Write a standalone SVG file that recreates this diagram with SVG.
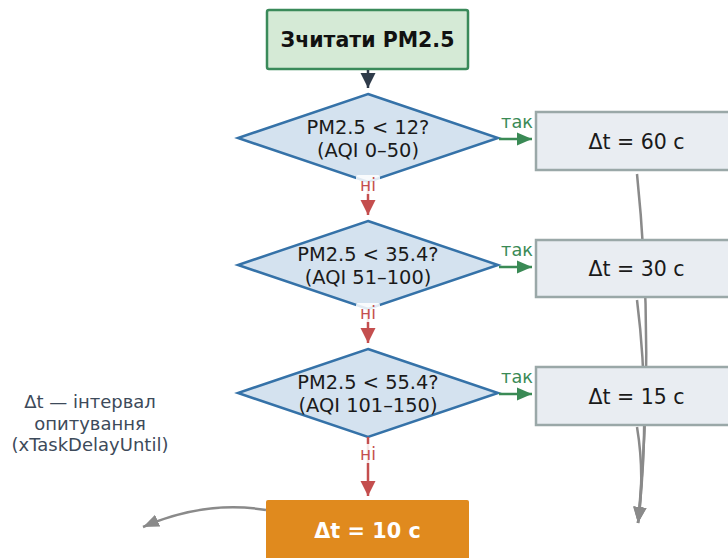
<svg xmlns="http://www.w3.org/2000/svg" width="728" height="558" viewBox="0 0 728 558">
  <defs>
    <marker id="headDark" markerUnits="userSpaceOnUse" markerWidth="16" markerHeight="16" viewBox="0 0 16 16" refX="15" refY="8" orient="auto">
      <path d="M0,0.5 L15,8 L0,15.5 Z" fill="#2f3b4a"/>
    </marker>
    <marker id="headRed" markerUnits="userSpaceOnUse" markerWidth="16" markerHeight="16" viewBox="0 0 16 16" refX="15" refY="8" orient="auto">
      <path d="M0,0.5 L15,8 L0,15.5 Z" fill="#c44e4e"/>
    </marker>
    <marker id="headGreen" markerUnits="userSpaceOnUse" markerWidth="16" markerHeight="16" viewBox="0 0 16 16" refX="15" refY="8" orient="auto">
      <path d="M0,1.5 L15,8 L0,14.5 Z" fill="#3a8a55"/>
    </marker>
    <marker id="headGray" markerUnits="userSpaceOnUse" markerWidth="18" markerHeight="18" viewBox="0 0 18 18" refX="16" refY="9" orient="auto">
      <path d="M0,2.5 L16,9 L0,15.5 Z" fill="#8a8a8a"/>
    </marker>
  </defs>
  <style>
    text { font-family: "DejaVu Sans", "Liberation Sans", sans-serif; text-anchor: middle; }
    .decision polygon { fill: #d4e2ef; stroke: #3572a8; stroke-width: 2.5; }
    .decision text { font-size: 19.4px; fill: #1a1a1a; }
    .delay rect { fill: #e9edf2; stroke: #9aa8a8; stroke-width: 2.5; }
    .delay text { font-size: 20.5px; fill: #1a1a1a; }
    .no-line { stroke: #c44e4e; stroke-width: 2.5; fill: none; marker-end: url(#headRed); }
    .yes-line { stroke: #3a8a55; stroke-width: 2.5; fill: none; marker-end: url(#headGreen); }
    .loop { stroke: #8a8a8a; stroke-width: 2.5; fill: none; marker-end: url(#headGray); }
    .no-label { font-size: 17px; fill: #c44e4e; }
    .yes-label { font-size: 17.7px; fill: #3a8a55; }
  </style>

  <!-- loop-back curves (behind the delay boxes) -->
  <g id="loops">
    <path class="loop" d="M637,174 Q655,348 638,523"/>
    <path class="loop" d="M637,300 Q651,411 638,523"/>
    <path class="loop" d="M637,427 Q645,475 638,523"/>
    <path class="loop" d="M266,510 Q205,500 143,527"/>
  </g>

  <!-- start node -->
  <g id="read">
    <rect x="267" y="10" width="201" height="59" rx="2" fill="#d5ead6" stroke="#3a8a5a" stroke-width="2.5"/>
    <text x="367.5" y="46.5" font-size="20.5" font-weight="bold" fill="#111">Зчитати PM2.5</text>
  </g>

  <!-- decisions -->
  <g id="cond12" class="decision">
    <polygon points="368,94 498,138 368,182 238,138"/>
    <text x="368" y="134">PM2.5 &lt; 12?</text>
    <text x="368" y="157">(AQI 0–50)</text>
  </g>
  <g id="cond35" class="decision">
    <polygon points="368,221 498,265 368,309 238,265"/>
    <text x="368" y="261">PM2.5 &lt; 35.4?</text>
    <text x="368" y="284">(AQI 51–100)</text>
  </g>
  <g id="cond55" class="decision">
    <polygon points="368,349 498,393 368,437 238,393"/>
    <text x="368" y="389">PM2.5 &lt; 55.4?</text>
    <text x="368" y="412">(AQI 101–150)</text>
  </g>

  <!-- delay boxes -->
  <g id="delay60" class="delay">
    <rect x="536" y="112" width="210" height="58"/>
    <text x="636.5" y="148.5">Δt = 60 с</text>
  </g>
  <g id="delay30" class="delay">
    <rect x="536" y="240" width="210" height="57"/>
    <text x="636.5" y="276">Δt = 30 с</text>
  </g>
  <g id="delay15" class="delay">
    <rect x="536" y="367" width="210" height="58"/>
    <text x="636.5" y="403.5">Δt = 15 с</text>
  </g>
  <g id="delay10">
    <rect x="266" y="500" width="203" height="70" rx="2" fill="#e08a1e"/>
    <text x="367.5" y="537.5" font-size="20.8" font-weight="bold" fill="#ffffff">Δt = 10 с</text>
  </g>

  <!-- flow connectors -->
  <g id="connectors">
    <line x1="368" y1="70" x2="368" y2="88" stroke="#2f3b4a" stroke-width="2.5" marker-end="url(#headDark)"/>

    <line class="no-line" x1="368" y1="182" x2="368" y2="215"/>
    <line class="no-line" x1="368" y1="309" x2="368" y2="343"/>
    <line class="no-line" x1="368" y1="437" x2="368" y2="496"/>

    <line class="yes-line" x1="499" y1="139" x2="532" y2="139"/>
    <line class="yes-line" x1="499" y1="267" x2="532" y2="267"/>
    <line class="yes-line" x1="499" y1="394" x2="532" y2="394"/>

    <rect x="356" y="175" width="24" height="19" rx="2" fill="#ffffff" fill-opacity="0.85"/>
    <text class="no-label" x="368" y="191">ні</text>
    <rect x="356" y="303" width="24" height="19" rx="2" fill="#ffffff" fill-opacity="0.85"/>
    <text class="no-label" x="368" y="319">ні</text>
    <rect x="356" y="444" width="24" height="19" rx="2" fill="#ffffff" fill-opacity="0.85"/>
    <text class="no-label" x="368" y="460">ні</text>

    <text class="yes-label" x="517" y="128">так</text>
    <text class="yes-label" x="517" y="256">так</text>
    <text class="yes-label" x="517" y="383">так</text>
  </g>

  <!-- legend note -->
  <g id="note" font-size="18" fill="#3d4a5a">
    <text x="90" y="408">Δt — інтервал</text>
    <text x="90" y="430">опитування</text>
    <text x="90" y="451">(xTaskDelayUntil)</text>
  </g>
</svg>
